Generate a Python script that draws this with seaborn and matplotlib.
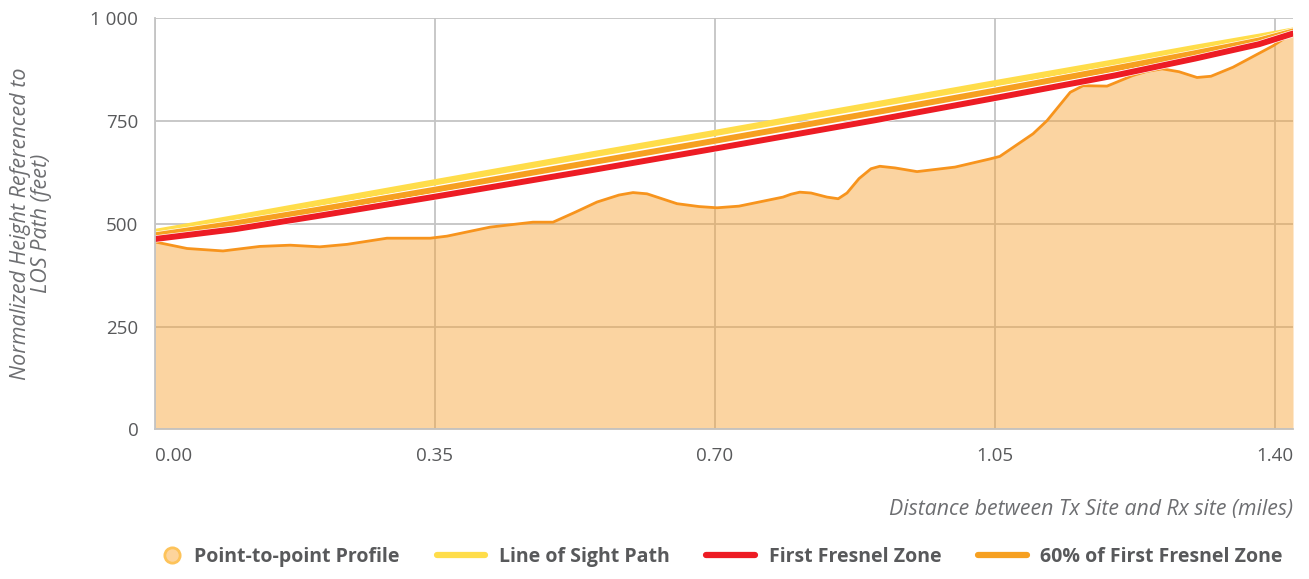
import numpy as np
import seaborn as sns
import matplotlib.pyplot as plt
from matplotlib.lines import Line2D
from matplotlib.legend_handler import HandlerLine2D
from matplotlib.ticker import FuncFormatter
import matplotlib.patheffects as pe

sns.set_style("white")
plt.rcParams.update({
    "font.family": ["Open Sans", "DejaVu Sans"],
    "axes.edgecolor": "#c4c4c4",
    "text.color": "#58595b",
    "xtick.color": "#58595b",
    "ytick.color": "#58595b",
})

# Terrain profile (miles, feet)
profile_x = [0.0, 0.04, 0.085, 0.131, 0.169, 0.206, 0.24, 0.29, 0.344, 0.365,
             0.419, 0.4725, 0.4975, 0.525, 0.5525, 0.58, 0.5975, 0.615,
             0.6525, 0.68, 0.7025, 0.73, 0.785, 0.795, 0.806, 0.82, 0.84,
             0.854, 0.865, 0.88, 0.895, 0.906, 0.925, 0.9525, 1.0, 1.044,
             1.056, 1.0975, 1.115, 1.144, 1.16, 1.19, 1.2225, 1.24, 1.259,
             1.28, 1.3025, 1.32, 1.3475, 1.3975, 1.4225]
profile_y = [456, 440, 434, 445, 448, 444, 450, 465, 465, 470,
             492, 504, 504, 528, 553, 570, 576, 573,
             549, 542, 539, 543, 565, 572, 577, 575, 565,
             561, 575, 610, 634, 640, 636, 627, 638, 658,
             664, 719, 751, 820, 836, 835, 861, 871, 877,
             870, 856, 859, 881, 933, 965]

# Line of sight and Fresnel zone lines
path_x = [0.0, 0.1, 0.2, 0.35, 0.55, 0.7, 0.9, 1.05, 1.2, 1.3, 1.38, 1.4225]
los_y = [480, 514, 549, 601, 670, 721, 790, 842, 893, 928, 955, 970]
fresnel_y = [463, 487, 518, 566, 632, 683, 752, 806, 861, 902, 937, 963]
fresnel60_y = [472, 501, 533, 583, 651, 702, 771, 824, 878, 915, 946, 968]

x_ticks = [0.0, 0.35, 0.70, 1.05, 1.40]
y_ticks = [0, 250, 500, 750, 1000]

c_profile = "#f7941d"
c_los = "#ffdd4a"
c_fresnel = "#ed1c24"
c_fresnel60 = "#f6a021"


class RightMarkerHandler(HandlerLine2D):
    # put the circle at the right end of the handle, close to its text
    def create_artists(self, legend, orig_handle, xdescent, ydescent,
                       width, height, fontsize, trans):
        artists = super().create_artists(legend, orig_handle, xdescent,
                                         ydescent, width, height, fontsize,
                                         trans)
        xc = -xdescent + width - 6
        for a in artists:
            a.set_xdata([xc - 1, xc, xc + 1])
        return artists


fig = plt.figure(figsize=(13.09, 5.79), dpi=100)
ax = fig.add_axes([0.1184, 0.2585, 0.8694, 0.7099])

ax.grid(True, color="#c4c4c4", linewidth=1.3, zorder=0)
ax.set_axisbelow(True)

ax.fill_between(profile_x, profile_y, 0, color="#f7a233", alpha=0.46,
                linewidth=0, zorder=1)
sns.lineplot(x=profile_x, y=profile_y, ax=ax, color=c_profile, linewidth=2.0,
             sort=False, zorder=2)

stroke = [pe.Stroke(linewidth=5.2, foreground="white"), pe.Normal()]
sns.lineplot(x=path_x, y=los_y, ax=ax, color=c_los, linewidth=4.5,
             sort=False, zorder=3, solid_capstyle="round")
sns.lineplot(x=path_x, y=fresnel60_y, ax=ax, color=c_fresnel60, linewidth=4.3,
             sort=False, zorder=4, path_effects=stroke, solid_capstyle="round")
sns.lineplot(x=path_x, y=fresnel_y, ax=ax, color=c_fresnel, linewidth=4.3,
             sort=False, zorder=5, path_effects=stroke, solid_capstyle="round")

ax.set_xlim(0, 1.4225)
ax.set_ylim(0, 1000)
ax.set_xticks(x_ticks)
ax.set_yticks(y_ticks)
ax.xaxis.set_major_formatter(FuncFormatter(lambda v, p: f"{v:.2f}"))
ax.yaxis.set_major_formatter(
    FuncFormatter(lambda v, p: f"{int(v):,}".replace(",", " ")))
ax.tick_params(axis="both", length=0, labelsize=13.5)
ax.tick_params(axis="y", pad=12)
ax.tick_params(axis="x", pad=13)
ax.get_xticklabels()[0].set_ha("left")

for s in ["top", "right"]:
    ax.spines[s].set_visible(False)
ax.spines["left"].set_linewidth(1.3)
ax.spines["bottom"].set_linewidth(1.3)
ax.spines["left"].set_zorder(6)

ax.set_ylabel("Normalized Height Referenced to\nLOS Path (feet)",
              fontsize=15.5, style="italic", color="#6d6e71", linespacing=1.0)
ax.yaxis.set_label_coords(-0.0905, 0.5)
ax.set_xlabel("Distance between Tx Site and Rx site (miles)", fontsize=15.3,
              style="italic", color="#6d6e71", loc="right")
ax.xaxis.set_label_coords(1.0, -0.17)

profile_handle = Line2D([], [], linestyle="none", marker="o", markersize=11,
                        markerfacecolor="#fdd49c", markeredgecolor="#fdc35a",
                        markeredgewidth=2)
handles = [
    profile_handle,
    Line2D([], [], color=c_los, linewidth=4.5, solid_capstyle="round"),
    Line2D([], [], color=c_fresnel, linewidth=4.5, solid_capstyle="round"),
    Line2D([], [], color=c_fresnel60, linewidth=4.5, solid_capstyle="round"),
]
labels = ["Point-to-point Profile", "Line of Sight Path", "First Fresnel Zone",
          "60% of First Fresnel Zone"]
leg = fig.legend(handles, labels, loc="center right",
                 bbox_to_anchor=(1283 / 1309, 0.038), ncol=4, frameon=False,
                 borderpad=0, borderaxespad=0,
                 handlelength=2.5, handletextpad=0.7, columnspacing=1.9,
                 handler_map={profile_handle: RightMarkerHandler(numpoints=1)},
                 prop={"weight": "bold", "size": 14})

fig.savefig("out.png", dpi=100)
